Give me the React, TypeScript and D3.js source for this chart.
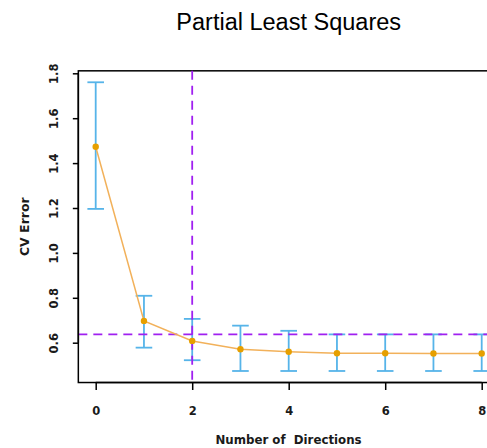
import React, { useEffect, useRef } from 'react';
import * as d3 from 'd3';

// number of PLS directions and cross-validated error
const directions = [0, 1, 2, 3, 4, 5, 6, 7, 8];
const cvError = [1.473, 0.697, 0.608, 0.571, 0.56, 0.553, 0.553, 0.552, 0.552];
const errUpper = [1.76, 0.809, 0.706, 0.676, 0.653, 0.637, 0.637, 0.637, 0.637];
const errLower = [1.196, 0.578, 0.522, 0.474, 0.474, 0.474, 0.474, 0.474, 0.474];
const xTicks = [0, 2, 4, 6, 8];
const yTicks = [0.6, 0.8, 1.0, 1.2, 1.4, 1.6, 1.8];
const bestDirections = 2;
const oneSeLine = 0.637;

const W = 487;
const H = 448;

const App = () => {
  const svgRef = useRef<SVGSVGElement>(null);

  useEffect(() => {
    const svg = d3.select(svgRef.current);
    svg.selectAll('*').remove();
    svg.attr('width', W).attr('height', H);

    const titleFont = 'Liberation Sans, Arial, sans-serif';
    const font = 'DejaVu Sans, Verdana, sans-serif';
    const ink = '#1a1a1a';

    // plot region borrowed from R's base graphics (4% axis padding)
    const xScale = d3.scaleLinear().domain([0, 8]).range([95.7, 481.7]);
    const yScale = d3.scaleLinear().domain([0.6, 1.8]).range([342.7, 73.3]);
    const x0 = xScale(-0.36), x1 = xScale(8.36);
    const y0 = yScale(0.4226), y1 = yScale(1.811);

    const data = directions.map((d, i) => ({
      d, v: cvError[i], hi: errUpper[i], lo: errLower[i],
    }));

    // title
    svg.append('text')
      .attr('x', 288.7)
      .attr('y', 29.5)
      .attr('text-anchor', 'middle')
      .style('font-family', titleFont)
      .style('font-size', '23.5px')
      .attr('fill', '#000')
      .text('Partial Least Squares');

    // box
    svg.append('rect')
      .attr('x', x0).attr('y', y1)
      .attr('width', x1 - x0).attr('height', y0 - y1)
      .attr('fill', 'none').attr('stroke', '#000').attr('stroke-width', 1.5);

    // error bars
    const cap = 8.3;
    const bars = svg.append('g').attr('stroke', '#56B4E9').attr('stroke-width', 1.8);
    bars.selectAll('.eb')
      .data(data).enter().append('line')
      .attr('x1', d => xScale(d.d)).attr('x2', d => xScale(d.d))
      .attr('y1', d => yScale(d.hi)).attr('y2', d => yScale(d.lo));
    bars.selectAll('.cap-hi')
      .data(data).enter().append('line')
      .attr('x1', d => xScale(d.d) - cap).attr('x2', d => xScale(d.d) + cap)
      .attr('y1', d => yScale(d.hi)).attr('y2', d => yScale(d.hi));
    bars.selectAll('.cap-lo')
      .data(data).enter().append('line')
      .attr('x1', d => xScale(d.d) - cap).attr('x2', d => xScale(d.d) + cap)
      .attr('y1', d => yScale(d.lo)).attr('y2', d => yScale(d.lo));

    // reference lines
    svg.append('line')
      .attr('x1', x0).attr('x2', x1)
      .attr('y1', yScale(oneSeLine)).attr('y2', yScale(oneSeLine))
      .attr('stroke', '#A020F0').attr('stroke-width', 1.8)
      .attr('stroke-dasharray', '9,6');
    svg.append('line')
      .attr('x1', xScale(bestDirections)).attr('x2', xScale(bestDirections))
      .attr('y1', y1).attr('y2', y0)
      .attr('stroke', '#A020F0').attr('stroke-width', 1.8)
      .attr('stroke-dasharray', '9,6');

    // CV error curve
    const line = d3.line<{ d: number; v: number }>()
      .x(d => xScale(d.d))
      .y(d => yScale(d.v));
    svg.append('path')
      .datum(data)
      .attr('d', line)
      .attr('fill', 'none')
      .attr('stroke', '#F2B15A')
      .attr('stroke-width', 1.5);
    svg.selectAll('.pt')
      .data(data).enter().append('circle')
      .attr('cx', d => xScale(d.d)).attr('cy', d => yScale(d.v))
      .attr('r', 3.2).attr('fill', '#E69F00');

    // X axis
    const xAxis = svg.append('g')
      .attr('transform', `translate(0,${y0})`)
      .call(d3.axisBottom(xScale).tickValues(xTicks).tickSize(7.5).tickFormat(d3.format('d')));
    xAxis.select('.domain')
      .attr('d', `M${xScale(0)},0H${xScale(8)}`)
      .attr('stroke-width', 1.5);
    xAxis.selectAll('.tick line').attr('stroke-width', 1.5);
    xAxis.selectAll('text')
      .attr('y', 410.7 - y0).attr('dy', null)
      .attr('dominant-baseline', 'central')
      .style('font-family', font).style('font-size', '11.5px').style('font-weight', 'bold')
      .attr('fill', ink);

    // Y axis
    const yAxis = svg.append('g')
      .attr('transform', `translate(${x0},0)`)
      .call(d3.axisLeft(yScale).tickValues(yTicks).tickSize(5.5).tickFormat(d3.format('.1f')));
    yAxis.select('.domain')
      .attr('d', `M0,${yScale(0.6)}V${yScale(1.8)}`)
      .attr('stroke-width', 1.5);
    yAxis.selectAll('.tick line').attr('stroke-width', 1.5);
    yAxis.selectAll('text')
      .attr('x', null).attr('dy', null)
      .attr('transform', 'translate(-24.5,0) rotate(-90)')
      .attr('text-anchor', 'middle')
      .attr('dominant-baseline', 'central')
      .style('font-family', font).style('font-size', '11.5px').style('font-weight', 'bold')
      .attr('fill', ink);

    // axis titles
    svg.append('text')
      .attr('x', 288.5)
      .attr('y', 440)
      .attr('text-anchor', 'middle')
      .attr('dominant-baseline', 'central')
      .style('white-space', 'pre')
      .style('font-family', font).style('font-size', '11.8px').style('font-weight', 'bold')
      .attr('fill', ink)
      .text('Number of  Directions');
    svg.append('text')
      .attr('transform', `translate(24,${(y0 + y1) / 2}) rotate(-90)`)
      .attr('text-anchor', 'middle')
      .attr('dominant-baseline', 'central')
      .style('font-family', font).style('font-size', '12.5px').style('font-weight', 'bold')
      .attr('fill', ink)
      .text('CV Error');
  }, []);

  return (
    <div style={{ position: 'absolute', left: 0, top: 0, width: W, height: H, background: '#fff' }}>
      <svg ref={svgRef} />
    </div>
  );
};

export default App;
